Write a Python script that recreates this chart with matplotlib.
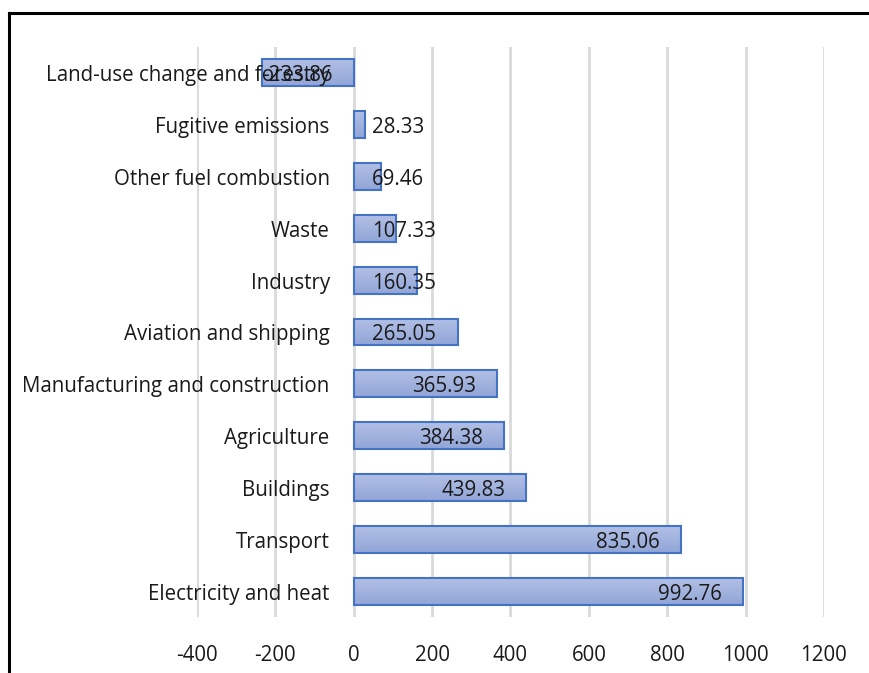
import numpy as np
import matplotlib.pyplot as plt
from matplotlib.colors import LinearSegmentedColormap
from matplotlib.lines import Line2D

sectors = ["Electricity and heat", "Transport", "Buildings", "Agriculture",
           "Manufacturing and construction", "Aviation and shipping", "Industry",
           "Waste", "Other fuel combustion", "Fugitive emissions",
           "Land-use change and forestry"]
emissions = [992.76, 835.06, 439.83, 384.38, 365.93, 265.05, 160.35,
             107.33, 69.46, 28.33, -233.86]
xticks = [-400, -200, 0, 200, 400, 600, 800, 1000, 1200]

plt.rcParams['font.family'] = ['Open Sans', 'DejaVu Sans']
FS = 14.8
TXT = '#1a1a1a'

fig = plt.figure(figsize=(8.7, 6.73), dpi=100)
ax = fig.add_axes([0.2264, 0.0832, 0.7207, 0.847])

y = np.arange(len(sectors))
bars = ax.barh(y, emissions, height=0.52, color='#9fb0dc',
               edgecolor='#4472c4', linewidth=1.5, zorder=3)

# soft vertical gradient inside each bar
grad = LinearSegmentedColormap.from_list('g', ['#91a5d7', '#b2c0e5'])
for b in bars:
    x0, y0 = b.get_x(), b.get_y()
    w, h = b.get_width(), b.get_height()
    im = ax.imshow(np.linspace(0, 1, 50).reshape(-1, 1), cmap=grad,
                   aspect='auto', origin='lower',
                   extent=[x0, x0 + w, y0, y0 + h], zorder=2.5)
    im.set_clip_path(b)
    b.set_facecolor('none')

ax.set_xlim(-400, 1200)
ax.set_ylim(-0.5, len(sectors) - 0.5)
ax.set_xticks(xticks)
ax.set_xticklabels([str(t) for t in xticks], fontsize=FS, color=TXT)
ax.tick_params(axis='x', length=0, pad=20)
ax.set_yticks([])
ax.grid(axis='x', color='#d9d9d9', linewidth=2, zorder=0)
ax.set_axisbelow(True)
for s in ax.spines.values():
    s.set_visible(False)

# category names sit next to the zero line
for i, name in enumerate(sectors):
    ax.annotate(name, xy=(0, i), xytext=(-24, -3), textcoords='offset pixels',
                ha='right', va='center', fontsize=FS, color=TXT)

# value labels
for i, v in enumerate(emissions):
    txt = f"{v:.2f}"
    if v < 0:
        ax.annotate(txt, xy=(v, i), xytext=(0, -3), textcoords='offset pixels',
                    ha='left', va='center', fontsize=FS, color=TXT, zorder=5)
    elif v >= 270:
        ax.annotate(txt, xy=(v, i), xytext=(-21, -3), textcoords='offset pixels',
                    ha='right', va='center', fontsize=FS, color=TXT, zorder=5)
    else:
        ax.annotate(txt, xy=(0, i), xytext=(18, -3), textcoords='offset pixels',
                    ha='left', va='center', fontsize=FS, color=TXT, zorder=5)

# frame lines along top and left
fig.add_artist(Line2D([9 / 870, 1.0], [1 - 12.5 / 673, 1 - 12.5 / 673],
                      transform=fig.transFigure, color='black', linewidth=2.2))
fig.add_artist(Line2D([9 / 870, 9 / 870], [0.0, 1 - 12.5 / 673],
                      transform=fig.transFigure, color='black', linewidth=2.2))

fig.savefig("out.png", dpi=100)
